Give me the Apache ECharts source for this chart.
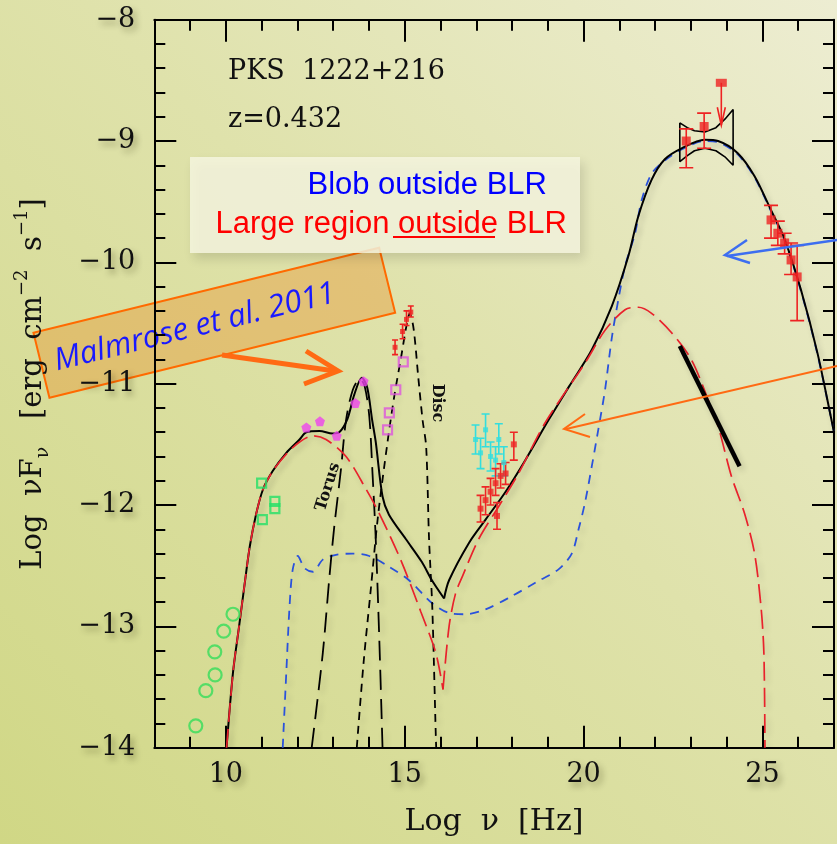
<!DOCTYPE html>
<html>
<head>
<meta charset="utf-8">
<script src="https://cdn.jsdelivr.net/npm/echarts@6/dist/echarts.min.js"></script>
<style>
html,body{margin:0;padding:0;}
#c{width:837px;height:844px;background:linear-gradient(to bottom left,#ededd2 0%,#dfe2ab 45%,#d0d785 100%);}
</style>
</head>
<body>
<div id="c"></div>
<script>
// ---------------- DATA ----------------
const xTickMajor = [10, 15, 20, 25];
const yTicks = [-14, -13, -12, -11, -10, -9, -8];

const blackTotalLow = [[10.02,-14.0],[10.20,-13.38],[10.37,-13.0],[10.53,-12.64],[10.67,-12.34],[10.85,-12.07],[11.04,-11.87],[11.31,-11.72],[11.69,-11.57],[12.06,-11.46],[12.25,-11.40],[12.62,-11.39],[12.98,-11.41],[13.17,-11.40],[13.40,-11.29],[13.59,-11.09],[13.80,-10.95],[13.95,-11.03],[14.09,-11.30],[14.19,-11.48],[14.38,-11.93],[14.56,-12.08],[15.03,-12.28],[15.48,-12.47],[15.76,-12.62],[16.10,-12.77]];
const blackTotalHigh = [[16.10,-12.77],[16.24,-12.62],[16.80,-12.31],[17.26,-12.12],[17.82,-11.89],[18.37,-11.63],[19.02,-11.30],[19.60,-11.02],[20.23,-10.72],[20.79,-10.36],[21.25,-9.95],[21.53,-9.62],[21.90,-9.32],[22.27,-9.15],[22.74,-9.06],[23.39,-8.99],[23.76,-9.00],[24.31,-9.10],[24.78,-9.29],[25.24,-9.57],[25.62,-9.81],[26.08,-10.23],[26.54,-10.75],[26.91,-11.27],[27.0,-11.40]];

const redLargeLow = [[10.02,-14.0],[10.20,-13.38],[10.37,-13.0],[10.53,-12.64],[10.67,-12.34],[10.85,-12.07],[11.04,-11.87],[11.31,-11.72],[11.69,-11.58],[12.06,-11.48],[12.43,-11.43],[12.80,-11.46],[13.36,-11.60],[13.92,-11.87],[14.29,-12.07],[14.90,-12.46],[15.45,-12.88],[15.87,-13.22],[16.07,-13.52]];
const redLargeHigh = [[16.07,-13.52],[16.24,-13.00],[16.42,-12.73],[16.61,-12.59],[17.07,-12.28],[17.63,-12.01],[18.18,-11.74],[18.93,-11.32],[20.04,-10.83],[20.60,-10.56],[21.16,-10.39],[21.53,-10.37],[21.90,-10.42],[22.46,-10.58],[23.01,-10.80],[23.48,-11.13],[23.76,-11.35],[24.13,-11.76],[24.50,-12.07],[24.78,-12.40],[24.96,-12.84],[25.04,-13.22],[25.07,-14.0]];

const blueBlob = [[11.59,-14.0],[11.69,-13.38],[11.78,-12.84],[11.87,-12.53],[12.01,-12.42],[12.20,-12.52],[12.43,-12.55],[12.71,-12.45],[13.08,-12.41],[13.54,-12.40],[14.01,-12.42],[14.57,-12.51],[15.12,-12.62],[15.77,-12.81],[16.24,-12.89],[16.70,-12.90],[17.26,-12.86],[18.00,-12.75],[18.65,-12.64],[19.30,-12.53],[19.67,-12.40],[19.86,-12.20],[20.04,-11.98],[20.23,-11.68],[20.41,-11.38],[20.60,-11.05],[20.79,-10.62],[20.97,-10.31],[21.16,-10.03],[21.44,-9.76],[21.62,-9.49],[21.90,-9.27],[22.27,-9.16],[22.74,-9.07],[23.39,-9.00],[23.76,-9.01],[24.31,-9.11],[24.78,-9.30],[25.24,-9.58],[25.62,-9.82],[26.08,-10.24],[26.54,-10.76],[27.0,-11.40]];

const torus = [[12.40,-14.0],[12.71,-13.22],[12.89,-12.61],[13.03,-12.18],[13.22,-11.70],[13.36,-11.30],[13.55,-11.05],[13.75,-10.96],[13.88,-11.02],[14.01,-11.27],[14.10,-11.74],[14.19,-12.28],[14.29,-13.11],[14.38,-14.0]];

const disc = [[13.66,-14.0],[13.85,-13.30],[14.05,-12.70],[14.25,-12.10],[14.52,-11.48],[14.71,-11.10],[14.90,-10.78],[15.05,-10.52],[15.14,-10.42],[15.25,-10.55],[15.38,-10.95],[15.50,-11.30],[15.60,-11.52],[15.68,-12.28],[15.77,-12.84],[15.87,-13.91],[15.88,-14.0]];

const fermiBowTie = [[22.69,-8.85],[22.90,-8.89],[23.10,-8.915],[23.39,-8.925],[23.70,-8.89],[23.95,-8.82],[24.18,-8.74],[24.18,-9.20],[23.95,-9.13],[23.70,-9.08],[23.39,-9.06],[23.10,-9.08],[22.90,-9.12],[22.69,-9.17],[22.69,-8.85]];
const fermiSlope = [[22.69,-10.69],[24.36,-11.68]];

const radioCircles = [[9.16,-13.82],[9.44,-13.53],[9.70,-13.40],[9.69,-13.21],[9.94,-13.04],[10.20,-12.90]];
const radioSquares = [[11.00,-11.82],[11.02,-12.12],[11.37,-11.97],[11.37,-12.03]];
const irPentagons = [[12.25,-11.36],[12.63,-11.31],[13.10,-11.43],[13.62,-11.16],[13.85,-10.98]];
const optSquares = [[14.52,-11.38],[14.57,-11.24],[14.75,-11.05],[14.96,-10.82]];
// [x, y, yLow, yHigh]
const uvRed = [[14.73,-10.70,-10.76,-10.64],[14.94,-10.57,-10.63,-10.51],[15.05,-10.47,-10.52,-10.40],[15.17,-10.41,-10.45,-10.36]];
const xrayCyan = [[16.98,-11.46,-11.58,-11.34],[17.12,-11.57,-11.70,-11.45],[17.26,-11.38,-11.52,-11.25],[17.40,-11.60,-11.72,-11.48],[17.54,-11.63,-11.76,-11.52],[17.63,-11.46,-11.58,-11.33],[17.77,-11.65,-11.76,-11.52]];
const xrayRed = [[17.12,-12.03,-12.14,-11.92],[17.26,-11.96,-12.08,-11.85],[17.40,-11.89,-12.00,-11.78],[17.54,-11.82,-11.92,-11.70],[17.58,-12.09,-12.20,-11.98],[17.68,-11.76,-11.86,-11.66],[17.82,-11.74,-11.83,-11.65],[18.05,-11.50,-11.63,-11.40]];
const fermiPoints = [[22.87,-9.00,-9.22,-8.90],[23.37,-8.88,-9.06,-8.77]];
const fermiUpperLimit = [[23.85,-8.52,-8.87]];
const tevPoints = [[25.24,-9.65,-9.80,-9.53],[25.43,-9.76,-9.86,-9.66],[25.62,-9.84,-9.93,-9.76],[25.80,-9.98,-10.10,-9.84],[25.97,-10.12,-10.48,-9.86]];

// ---------------- CHART ----------------
const chart = echarts.init(document.getElementById('c'), null, {renderer:'canvas'});
const SERIF = '"DejaVu Serif", "Liberation Serif", serif';
const tShadow = {textShadowColor:'rgba(40,40,0,0.4)', textShadowBlur:6, textShadowOffsetX:3, textShadowOffsetY:4};
const gShadow = {shadowColor:'rgba(40,40,0,0.4)', shadowBlur:6, shadowOffsetX:3, shadowOffsetY:4};
const lShadow = {shadowColor:'rgba(0,0,0,0.16)', shadowBlur:6, shadowOffsetX:3, shadowOffsetY:4};
const minus = v => String(v).replace('-', '\u2212');

function lineSeries(data, color, width, type, z) {
  return {type:'line', data, symbol:'none', smooth:0.3, clip:true, z:z||3,
    lineStyle:Object.assign({color, width, type:type||'solid'}, lShadow)};
}
function errorBars(data, color, capHalf) {
  return {type:'custom', data, encode:{x:0, y:1}, z:6, clip:true,
    renderItem:(params, api) => {
      const x = api.value(0);
      const lo = api.coord([x, api.value(2)]);
      const hi = api.coord([x, api.value(3)]);
      const st = {stroke:color, lineWidth:1.6};
      return {type:'group', children:[
        {type:'line', shape:{x1:lo[0], y1:lo[1], x2:hi[0], y2:hi[1]}, style:st},
        {type:'line', shape:{x1:lo[0]-capHalf, y1:lo[1], x2:lo[0]+capHalf, y2:lo[1]}, style:st},
        {type:'line', shape:{x1:hi[0]-capHalf, y1:hi[1], x2:hi[0]+capHalf, y2:hi[1]}, style:st}
      ]};
    }};
}
function markers(data, color, symbol, size, filled) {
  return {type:'scatter', data:data.map(d => [d[0], d[1]]), symbol, symbolSize:size, z:7,
    itemStyle: filled ? {color} : {color:'transparent', borderColor:color, borderWidth:2.2}};
}

const xMinorAxis = pos => ({type:'value', position:pos, min:8, max:27, interval:1, gridIndex:0,
  axisLine:{show:true, onZero:false, lineStyle:{color:'#000', width:2}},
  axisTick:{show:true, inside:true, length:11, lineStyle:{color:'#000', width:2}},
  axisLabel: pos === 'bottom' ? {show:true, margin:14, fontFamily:SERIF, fontSize:27, color:'#111',
      formatter: v => xTickMajor.indexOf(v) >= 0 ? String(v) : '', ...tShadow} : {show:false},
  splitLine:{show:false}});
const xMajorAxis = pos => ({type:'value', position:pos, min:8, max:27, gridIndex:0,
  axisLine:{show:false, onZero:false},
  axisTick:{show:true, inside:true, length:22, customValues:xTickMajor, lineStyle:{color:'#000', width:2}},
  axisLabel:{show:false, customValues:xTickMajor}, splitLine:{show:false}});
const yAxisDef = pos => ({type:'value', position:pos, min:-14, max:-8, interval:1,
  axisLine:{show:true, onZero:false, lineStyle:{color:'#000', width:2}},
  axisTick:{show:true, inside:true, length:22, lineStyle:{color:'#000', width:2}},
  minorTick:{show:true, splitNumber:5, length:11, lineStyle:{color:'#000', width:2}},
  axisLabel: pos === 'left' ? {show:true, margin:19, fontFamily:SERIF, fontSize:27, color:'#111',
      formatter: v => yTicks.indexOf(v) >= 0 ? minus(v) : '', ...tShadow} : {show:false},
  splitLine:{show:false}, minorSplitLine:{show:false}});

const option = {
  backgroundColor:'transparent',
  animation:false,
  grid:{left:154.3, right:0.5, top:19.7, bottom:96.3, containLabel:false},
  xAxis:[xMinorAxis('bottom'), xMajorAxis('bottom'), xMinorAxis('top'), xMajorAxis('top')],
  yAxis:[yAxisDef('left'), yAxisDef('right')],
  series:[
    lineSeries(blueBlob, '#2a52dc', 1.8, [9,7], 2),
    lineSeries(torus, '#000', 1.8, [20,9], 3),
    lineSeries(disc, '#000', 1.8, [8,6], 3),
    lineSeries(blackTotalLow, '#000', 2, 'solid', 4),
    lineSeries(blackTotalHigh, '#000', 2, 'solid', 4),
    lineSeries(redLargeLow, '#e8222c', 1.7, [19,7], 5),
    lineSeries(redLargeHigh, '#e8222c', 1.7, [19,7], 5),
    {type:'line', data:fermiBowTie, symbol:'none', smooth:false, z:5, lineStyle:{color:'#000', width:1.6}},
    {type:'line', data:fermiSlope, symbol:'none', z:5, lineStyle:Object.assign({color:'#000', width:4.5}, lShadow)},
    markers(radioCircles, '#35dd5a', 'circle', 13, false),
    markers(radioSquares, '#22e066', 'rect', 9, false),
    markers(irPentagons, '#ee44ee', 'path://M0,-1 L0.95,-0.31 L0.59,0.81 L-0.59,0.81 L-0.95,-0.31 Z', 10, true),
    markers(optSquares, '#dd55dd', 'rect', 9, false),
    errorBars(uvRed, '#ee2222', 3), markers(uvRed, '#ee2222', 'rect', 5, true),
    errorBars(xrayCyan, '#33dede', 4), markers(xrayCyan, '#33dede', 'rect', 5, true),
    errorBars(xrayRed, '#ee2626', 4), markers(xrayRed, '#ee2626', 'rect', 6, true),
    errorBars(fermiPoints, '#ee2222', 7), markers(fermiPoints, '#ee2222', 'rect', 9, true),
    errorBars(tevPoints, '#ee2222', 7), markers(tevPoints, '#ee2222', 'rect', 9, true),
    markers(fermiUpperLimit, '#ee2222', 'rect', [11,8], true),
    {type:'custom', data:fermiUpperLimit, encode:{x:0, y:1}, z:6,
      renderItem:(params, api) => {
        const x = api.value(0);
        const p0 = api.coord([x, api.value(1)]);
        const p1 = api.coord([x, api.value(2)]);
        const st = {stroke:'#ee2222', lineWidth:1.6, fill:'none'};
        return {type:'group', children:[
          {type:'line', shape:{x1:p0[0], y1:p0[1], x2:p1[0], y2:p1[1]}, style:st},
          {type:'polyline', shape:{points:[[p1[0]-4, p1[1]-18],[p1[0], p1[1]],[p1[0]+4, p1[1]-18]]}, style:st}
        ]};
      }}
  ],
  graphic:[
    {type:'text', x:228, y:72, z:20, style:Object.assign({text:'PKS  1222+216', font:'27px ' + SERIF, fill:'#111', align:'left', verticalAlign:'middle', textAlign:'left', textVerticalAlign:'middle'}, gShadow)},
    {type:'text', x:228, y:120, z:20, style:Object.assign({text:'z=0.432', font:'27px ' + SERIF, fill:'#111', align:'left', verticalAlign:'middle', textAlign:'left', textVerticalAlign:'middle'}, gShadow)},
    {type:'rect', z:20, shape:{x:190, y:157, width:390, height:96}, style:{fill:'rgba(245,245,222,0.85)', shadowBlur:10, shadowColor:'rgba(0,0,0,0.15)', shadowOffsetX:4, shadowOffsetY:6}},
    {type:'text', x:547, y:185, z:21, style:{text:'Blob outside BLR', font:'31px "Liberation Sans", Arial, sans-serif', fill:'#0000ff', align:'right', verticalAlign:'middle', textAlign:'right', textVerticalAlign:'middle'}},
    {type:'text', x:567, y:224, z:21, style:{text:'Large region outside BLR', font:'31px "Liberation Sans", Arial, sans-serif', fill:'#ff0000', align:'right', verticalAlign:'middle', textAlign:'right', textVerticalAlign:'middle'}},
    {type:'line', z:21, shape:{x1:393, y1:237, x2:495, y2:237}, style:{stroke:'#ff0000', lineWidth:2}},
    {type:'group', x:214.3, y:322.8, rotation:0.241, z:30, children:[
      {type:'rect', shape:{x:-178, y:-33.5, width:356, height:67}, style:{fill:'rgba(232,150,50,0.42)', stroke:'#ff6a00', lineWidth:2}},
      {type:'text', x:-20, y:0, style:{text:'Malmrose et al. 2011', font:'italic 31px "Open Sans", sans-serif', fill:'#1a1aff', align:'center', verticalAlign:'middle', textAlign:'center', textVerticalAlign:'middle'}}
    ]},
    {type:'polyline', z:30, shape:{points:[[222,355],[335,371]]}, style:{stroke:'#ff6a13', lineWidth:5, fill:'none'}},
    {type:'polyline', z:30, shape:{points:[[306,351],[338,371],[304,384]]}, style:{stroke:'#ff6a13', lineWidth:5, fill:'none', lineJoin:'miter'}},
    {type:'polyline', z:30, shape:{points:[[837,240],[727,256]]}, style:{stroke:'#3d6ef0', lineWidth:2.5, fill:'none'}},
    {type:'polyline', z:30, shape:{points:[[747,240],[725,255],[750,263]]}, style:{stroke:'#3d6ef0', lineWidth:2.5, fill:'none'}},
    {type:'polyline', z:30, shape:{points:[[837,366],[566,429]]}, style:{stroke:'#ff6a13', lineWidth:2, fill:'none'}},
    {type:'polyline', z:30, shape:{points:[[585,414],[564,429],[590,437]]}, style:{stroke:'#ff6a13', lineWidth:2, fill:'none'}},
    {type:'text', x:328, y:487, rotation:1.265, z:20, style:{text:'Torus', font:'bold 16px ' + SERIF, fill:'#111', align:'center', verticalAlign:'middle', textAlign:'center', textVerticalAlign:'middle'}},
    {type:'text', x:437, y:403, rotation:-Math.PI/2, z:20, style:{text:'Disc', font:'bold 16px ' + SERIF, fill:'#111', align:'center', verticalAlign:'middle', textAlign:'center', textVerticalAlign:'middle'}},
    {type:'text', x:494, y:822, z:20, style:Object.assign({text:'Log  \u03bd  [Hz]', font:'30px ' + SERIF, fill:'#111', align:'center', verticalAlign:'middle', textAlign:'center', textVerticalAlign:'middle'}, gShadow)},
    {type:'text', x:33, y:384, rotation:Math.PI/2, z:20, style:Object.assign({
      text:'{a|Log  \u03bdF}{s|\u03bd}{a|   [erg  cm}{p|\u22122}{a|  s}{p|\u22121}{a|]}',
      align:'center', verticalAlign:'middle', textAlign:'center', textVerticalAlign:'middle',
      rich:{
        a:{font:'29px ' + SERIF, fill:'#111', color:'#111', lineHeight:40},
        s:{font:'19px ' + SERIF, fill:'#111', color:'#111', verticalAlign:'bottom', lineHeight:22},
        p:{font:'18px ' + SERIF, fill:'#111', color:'#111', verticalAlign:'top', lineHeight:22}
      }}, gShadow)}
  ]
};
chart.setOption(option);
</script>
</body>
</html>
